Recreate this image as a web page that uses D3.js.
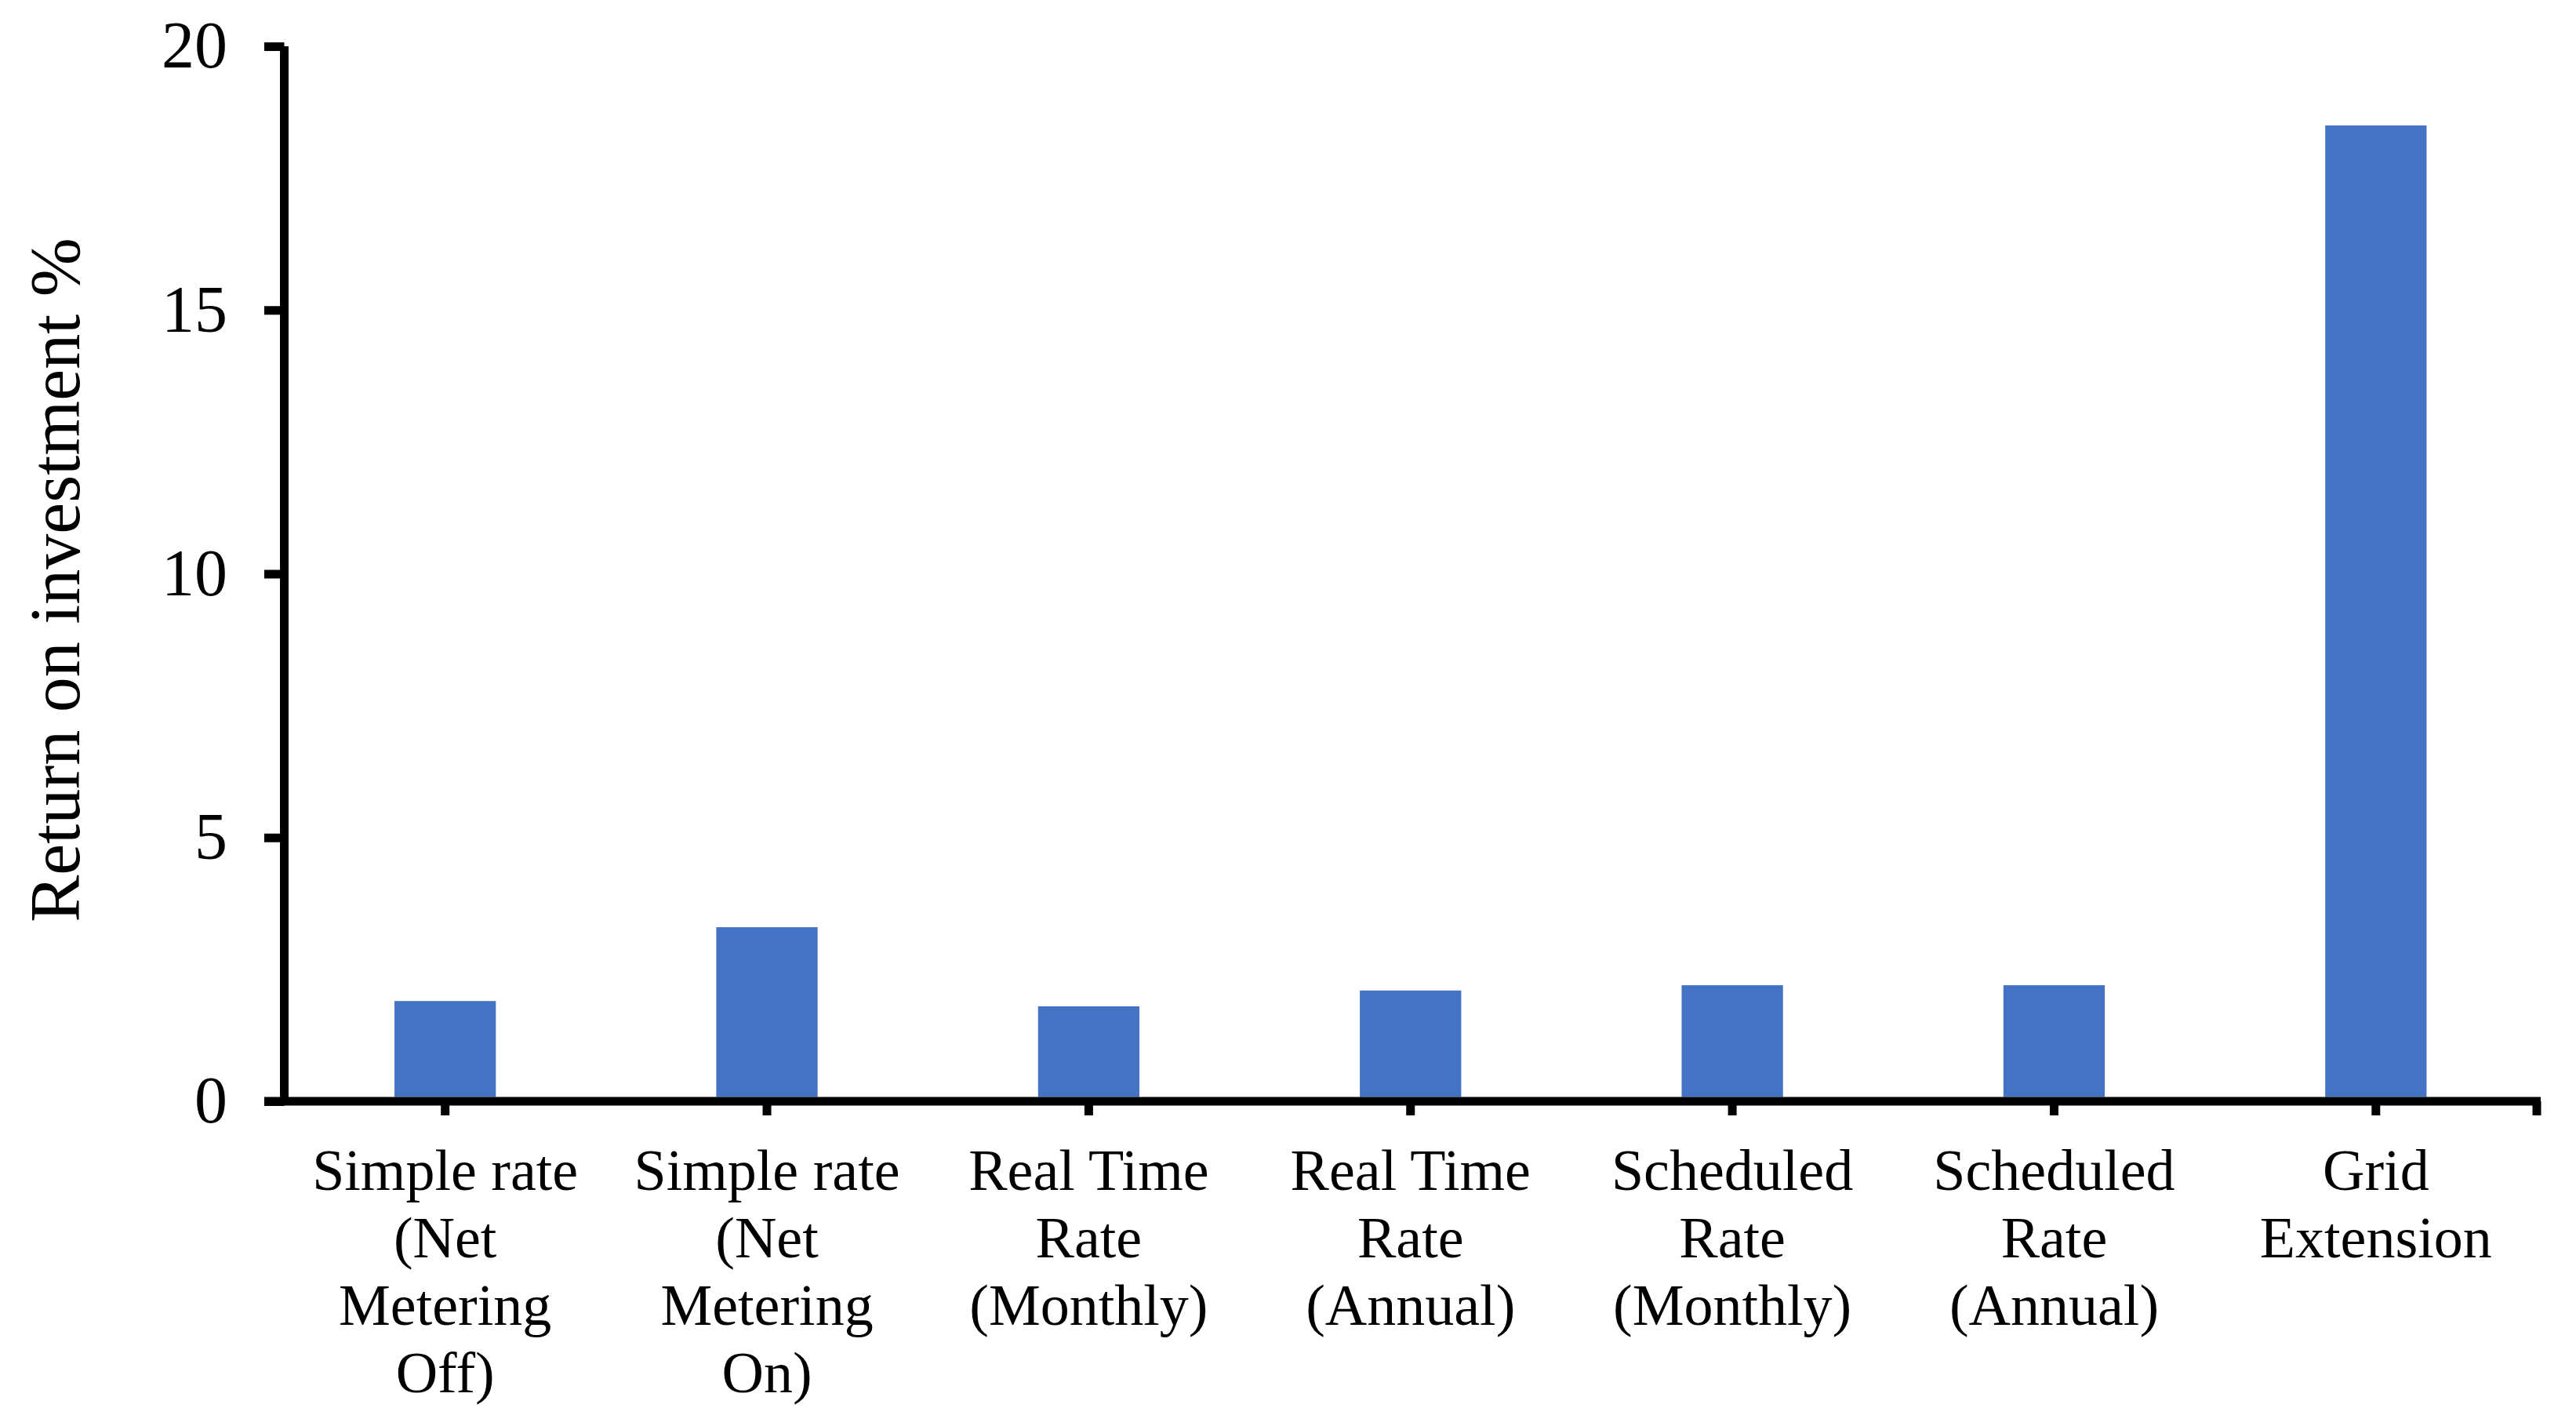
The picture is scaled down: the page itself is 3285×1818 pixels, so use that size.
<!DOCTYPE html>
<html>
<head>
<meta charset="utf-8">
<script src="https://cdn.jsdelivr.net/npm/d3@7"></script>
<style>
	body { margin: 0; background: #fff; }
	svg { display: block; font-family: "Liberation Serif", "Times New Roman", serif; }
</style>
</head>
<body>
<svg width="3285" height="1818"></svg>
<script>
// chart data
var categories = ["Simple rate (Net Metering Off)", "Simple rate (Net Metering On)", "Real Time Rate (Monthly)",
	"Real Time Rate (Annual)", "Scheduled Rate (Monthly)", "Scheduled Rate (Annual)", "Grid Extension"];
var labelLines = [
	["Simple rate", "(Net", "Metering", "Off)"],
	["Simple rate", "(Net", "Metering", "On)"],
	["Real Time", "Rate", "(Monthly)"],
	["Real Time", "Rate", "(Annual)"],
	["Scheduled", "Rate", "(Monthly)"],
	["Scheduled", "Rate", "(Annual)"],
	["Grid", "Extension"]
];
var roi = [1.9, 3.3, 1.8, 2.1, 2.2, 2.2, 18.5];
var yTicks = [0, 5, 10, 15, 20];
var yTitle = "Return on investment %";

function drawChart() {
	var svg = d3.select("svg");
	var left = 362.5, right = 3235, top = 59, bottom = 1404;

	var x = d3.scaleBand().domain(categories).range([left, right])
		.paddingInner(0.685).paddingOuter(0.3425);
	var y = d3.scaleLinear().domain([0, 20]).range([bottom, top]);

	// bars
	svg.append("g").selectAll("rect")
		.data(roi)
		.enter()
		.append("rect")
		.attr("x", function (d, i) { return x(categories[i]) })
		.attr("y", function (d) { return y(d) })
		.attr("width", x.bandwidth())
		.attr("height", function (d) { return y(0) - y(d) - 5.5 })
		.attr("fill", "#4472C4");

	// y axis
	var gy = svg.append("g")
		.attr("transform", "translate(" + left + ",0)")
		.call(d3.axisLeft(y).tickValues(yTicks).tickSize(25.5).tickSizeOuter(0).tickPadding(47));
	gy.select(".domain").attr("stroke", "#000").attr("stroke-width", 11)
		.attr("d", "M0," + top + "V" + (bottom + 5));
	gy.selectAll(".tick line").attr("stroke", "#000").attr("stroke-width", 11);
	gy.selectAll(".tick text").attr("font-size", 84).attr("fill", "#000")
		.attr("font-family", "Liberation Serif");

	// x axis
	var gx = svg.append("g")
		.attr("transform", "translate(0," + bottom + ")")
		.call(d3.axisBottom(x).tickSize(18).tickSizeOuter(0).tickFormat(""));
	gx.select(".domain").attr("stroke", "#000").attr("stroke-width", 11)
		.attr("d", "M337,0H" + (right + 5));
	gx.selectAll(".tick line").attr("stroke", "#000").attr("stroke-width", 11);
	gx.append("line")
		.attr("x1", right).attr("x2", right)
		.attr("y1", 0).attr("y2", 18)
		.attr("stroke", "#000").attr("stroke-width", 11);

	// category labels
	svg.append("g").selectAll("text")
		.data(labelLines)
		.enter()
		.append("text")
		.attr("text-anchor", "middle")
		.attr("font-size", 74)
		.attr("fill", "#000")
		.each(function (lines, i) {
			var cx = x(categories[i]) + x.bandwidth() / 2;
			d3.select(this).selectAll("tspan")
				.data(lines)
				.enter()
				.append("tspan")
				.attr("x", cx)
				.attr("y", function (d, j) { return 1517 + j * 86 })
				.text(function (d) { return d });
		});

	// y title
	svg.append("text")
		.attr("transform", "translate(101," + ((top + bottom) / 2 + 8) + ") rotate(-90)")
		.attr("text-anchor", "middle")
		.attr("font-size", 90)
		.attr("fill", "#000")
		.text(yTitle);
}

drawChart();
</script>
</body>
</html>
